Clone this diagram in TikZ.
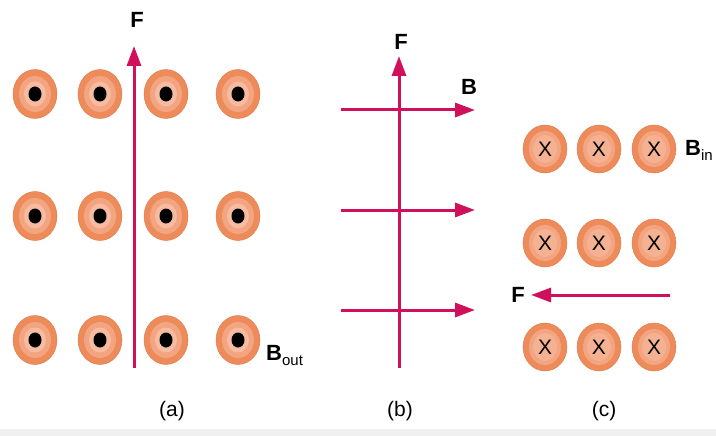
\documentclass[tikz,border=0pt]{standalone}
\usepackage{fontspec}
\setmainfont{Liberation Sans}
\usepackage{tikz}
\usetikzlibrary{arrows.meta}

\definecolor{ringout}{RGB}{238,139,91}
\definecolor{ringedge}{RGB}{222,120,70}
\definecolor{ringmid}{RGB}{243,164,128}
\definecolor{ringin}{RGB}{246,187,160}
\definecolor{forcecol}{RGB}{208,16,90}

\tikzset{
  force/.style={line width=3pt,forcecol,-{Triangle[length=20pt,width=14pt]}},
  lbl/.style={font=\bfseries\fontsize{22}{22}\selectfont,inner sep=0pt},
  sublbl/.style={font=\fontsize{21}{21}\selectfont,inner sep=0pt},
}

\begin{document}
\begin{tikzpicture}[x=1pt,y=-1pt]
		\useasboundingbox (0,0) rectangle (716,436);
		\fill[gray!12] (0,429) rectangle (716,436);
		% (a) field out of the page: dots
		\foreach \px in {35,100,166,238}
		\foreach \py in {94,216,340}{
			\filldraw[fill=ringout,draw=ringedge,thin] (\px,\py) ellipse (22pt and 24.5pt);
			\fill[ringmid] (\px,\py) ellipse (16pt and 18pt);
			\fill[ringin] (\px,\py) ellipse (11pt and 12.5pt);
			\fill[black] (\px,\py) ellipse (6.5pt and 7.5pt);
		}
		% (c) field into the page: crosses
		\foreach \px in {545,599,654}
		\foreach \py in {149,243,347}{
			\filldraw[fill=ringout,draw=ringedge,thin] (\px,\py) ellipse (22pt and 24pt);
			\fill[ringmid] (\px,\py) ellipse (16pt and 18pt);
			\fill[ringin!60!ringmid] (\px,\py) ellipse (12pt and 14pt);
			\node[sublbl] at (\px,\py) {X};
		}
		% force in (a)
		\coordinate (Fa0) at (134,368);
		\coordinate (Fa1) at (134,46);
		\draw[force] (Fa0) -- (Fa1);
		\node[lbl] (Fa) at (137,20) {F};
		\node[lbl,anchor=west] (Bout) at (266,356) {B\textmd{\fontsize{15}{15}\selectfont\raisebox{-5pt}{out}}};
		% (b) field lines and force
		\foreach \py [count=\i] in {110,210,310}{
			\coordinate (Bb\i0) at (341,\py);
			\coordinate (Bb\i1) at (475,\py);
			\draw[force] (Bb\i0) -- (Bb\i1);
		}
		\coordinate (Fb0) at (399,368);
		\coordinate (Fb1) at (399,56);
		\draw[force] (Fb0) -- (Fb1);
		\node[lbl] (Fb) at (401,42) {F};
		\node[lbl] (Bb) at (469,87) {B};
		% force in (c)
		\coordinate (Fc0) at (670,295);
		\coordinate (Fc1) at (531,295);
		\draw[force] (Fc0) -- (Fc1);
		\node[lbl] (Fc) at (518,295) {F};
		\node[lbl,anchor=west] (Bin) at (685,150) {B\textmd{\fontsize{15}{15}\selectfont\raisebox{-5pt}{in}}};
		% captions
		\node[sublbl] (capa) at (172,411) {(a)};
		\node[sublbl] (capb) at (400,411) {(b)};
		\node[sublbl] (capc) at (604,411) {(c)};
	\end{tikzpicture}
\end{document}
